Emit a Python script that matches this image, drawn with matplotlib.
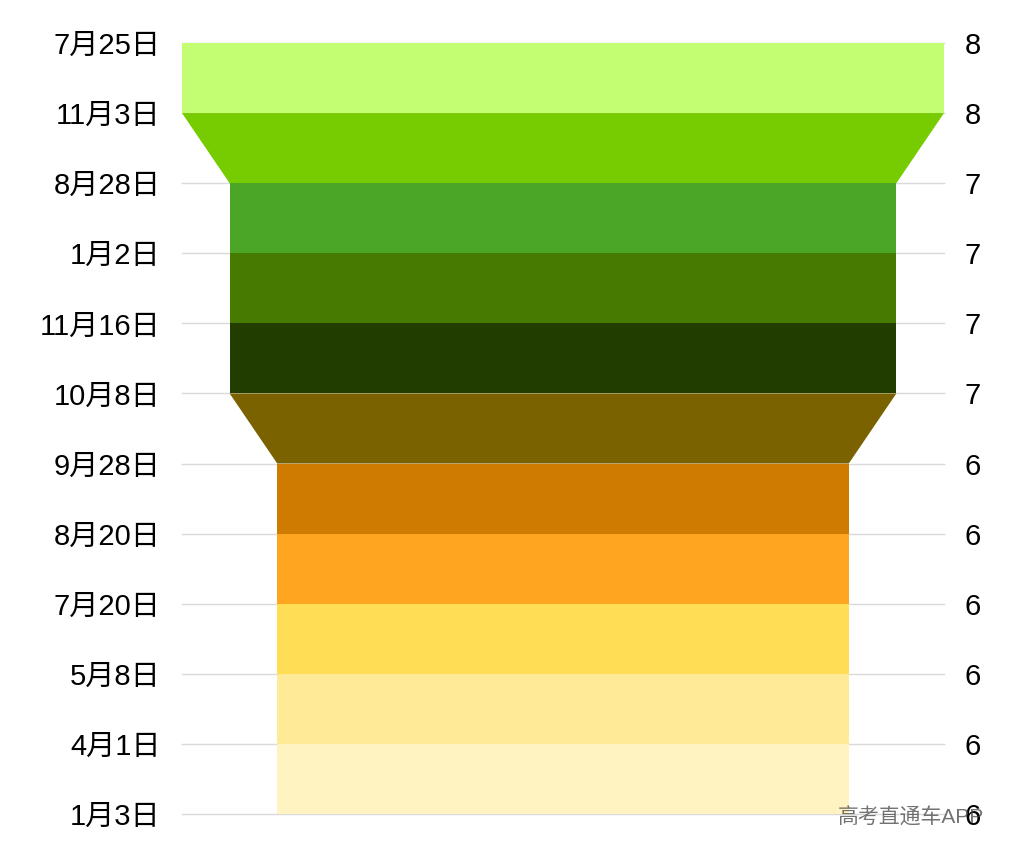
import matplotlib.pyplot as plt
from matplotlib.patches import Polygon

plt.rcParams['font.family'] = ['Liberation Sans', 'Noto Sans CJK SC', 'DejaVu Sans']

dates = ['7月25日', '11月3日', '8月28日', '1月2日', '11月16日', '10月8日',
         '9月28日', '8月20日', '7月20日', '5月8日', '4月1日', '1月3日']
values = [8, 8, 7, 7, 7, 7, 6, 6, 6, 6, 6, 6]
colors = ['#c2fd72', '#76cc00', '#4ba628', '#467a00', '#223d00', '#7b6200',
          '#cf7a00', '#ffa520', '#ffdd55', '#ffea98', '#fff3c2']

fig = plt.figure(figsize=(10.15, 8.58), dpi=100)
ax = fig.add_axes([182 / 1015, 44 / 858, 762 / 1015, 771 / 858])

n = len(dates)
vmax = max(values)
for i in range(n):
    ax.axhline(i, color='#d9d9d9', lw=1, zorder=0, clip_on=False)

for i in range(n - 1):
    top, bot = values[i], values[i + 1]
    pts = [(-top, i), (top, i), (bot, i + 1), (-bot, i + 1)]
    ax.add_patch(Polygon(pts, closed=True, facecolor=colors[i], edgecolor='none', zorder=1))

ax.set_xlim(-vmax, vmax)
ax.set_ylim(n - 1, 0)
ax.set_xticks([])
ax.set_yticks(range(n))
ax.set_yticklabels(dates, fontsize=21)
ax.tick_params(axis='y', length=0, pad=15.5)
for s in ax.spines.values():
    s.set_visible(False)

ax2 = ax.twinx()
ax2.set_ylim(n - 1, 0)
ax2.set_yticks(range(n))
ax2.set_yticklabels([str(v) for v in values], fontsize=21)
ax2.tick_params(axis='y', length=0, pad=15)
for s in ax2.spines.values():
    s.set_visible(False)

fig.text(838 / 1015, 1 - 818 / 858, '高考直通车APP', fontsize=15, color='#444444',
         alpha=0.75, ha='left', va='center')

fig.savefig('out.png', dpi=100)
